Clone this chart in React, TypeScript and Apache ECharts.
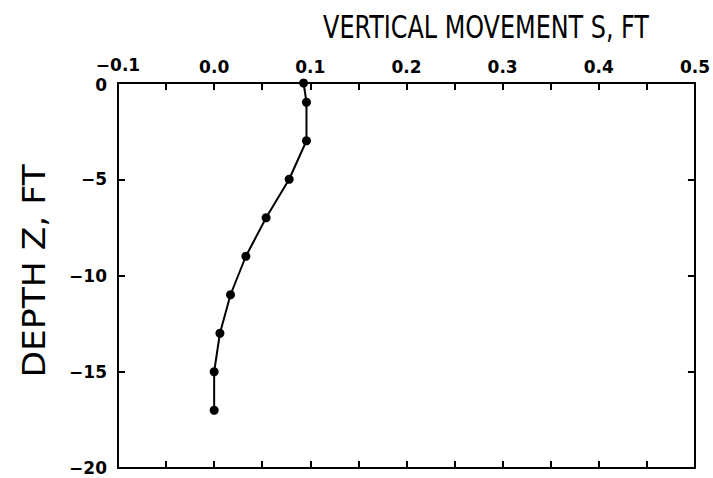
import React, { useEffect, useRef } from "react";
import * as echarts from "echarts";

const depthZ = [0, -1, -3, -5, -7, -9, -11, -13, -15, -17];
const movementS = [0.093, 0.096, 0.096, 0.078, 0.054, 0.033, 0.017, 0.006, 0.0, 0.0];
const xTicks = { min: -0.1, max: 0.5, interval: 0.1 };
const yTicks = { min: -20, max: 0, interval: 5 };
const titleText = "VERTICAL MOVEMENT S, FT";
const yName = "DEPTH Z, FT";

export default function App() {
  const ref = useRef<HTMLDivElement>(null);
  useEffect(() => {
    document.body.style.margin = "0";
    if (!ref.current) return;
    const chart = echarts.init(ref.current, null, { renderer: "svg" });
    const lineStyle = { color: "#000", width: 2 };
    const labelFont = {
      color: "#000",
      fontFamily: "DejaVu Sans",
      fontSize: 17,
      fontWeight: "bold" as const,
      lineHeight: 14,
    };
    const minus = (s: string) => s.replace("-", "\u2212");
    const xBase = (show: boolean, pos: "top" | "bottom") => ({
      type: "value" as const,
      position: pos,
      min: xTicks.min,
      max: xTicks.max,
      interval: xTicks.interval,
      axisLine: { show: true, onZero: false, lineStyle },
      axisTick: { show: true, inside: true, length: 7, lineStyle },
      minorTick: { show: true, splitNumber: 2, length: 7, lineStyle },
      splitLine: { show: false },
      minorSplitLine: { show: false },
      axisLabel: {
        show,
        margin: 9,
        ...labelFont,
        formatter: (v: number) =>
          v < -0.05 ? "{up|" + minus(v.toFixed(1)) + "}" : minus(v.toFixed(1)),
        rich: { up: { ...labelFont, padding: [0, 0, 5, 0] } },
      },
    });
    const yBase = (show: boolean, pos: "left" | "right") => ({
      type: "value" as const,
      position: pos,
      min: yTicks.min,
      max: yTicks.max,
      interval: yTicks.interval,
      axisLine: { show: true, onZero: false, lineStyle },
      axisTick: { show: true, inside: true, length: 7, lineStyle },
      splitLine: { show: false },
      axisLabel: {
        show,
        margin: 11,
        ...labelFont,
        formatter: (v: number) => (v === 0 ? "{dn|0}" : minus(String(v))),
        rich: { dn: { ...labelFont, padding: [4, 0, 0, 0] } },
      },
    });
    const nameFont = "normal 32px 'DejaVu Sans Condensed', 'DejaVu Sans'";
    chart.setOption({
      animation: false,
      backgroundColor: "#fff",
      grid: { left: 118, right: 15, top: 83, bottom: 10, containLabel: false },
      xAxis: [xBase(true, "top"), xBase(false, "bottom")],
      yAxis: [yBase(true, "left"), yBase(false, "right")],
      graphic: [
        {
          type: "text",
          x: 486,
          y: 27,
          scaleX: 0.83,
          style: {
            text: titleText,
            fill: "#000",
            font: nameFont,
            align: "center",
            verticalAlign: "middle",
            textAlign: "center",
            textVerticalAlign: "middle",
          },
        },
        {
          type: "text",
          x: 34,
          y: 271,
          rotation: Math.PI / 2,
          scaleX: 1.2,
          style: {
            text: yName,
            fill: "#000",
            font: nameFont,
            align: "center",
            verticalAlign: "middle",
            textAlign: "center",
            textVerticalAlign: "middle",
          },
        },
      ],
      series: [
        {
          type: "line",
          xAxisIndex: 0,
          yAxisIndex: 0,
          data: depthZ.map((z, i) => [movementS[i], z]),
          symbol: "circle",
          symbolSize: 9,
          itemStyle: { color: "#000" },
          lineStyle: { color: "#000", width: 2 },
        },
      ],
    });
    return () => chart.dispose();
  }, []);
  return <div ref={ref} style={{ width: 713, height: 478 }} />;
}
